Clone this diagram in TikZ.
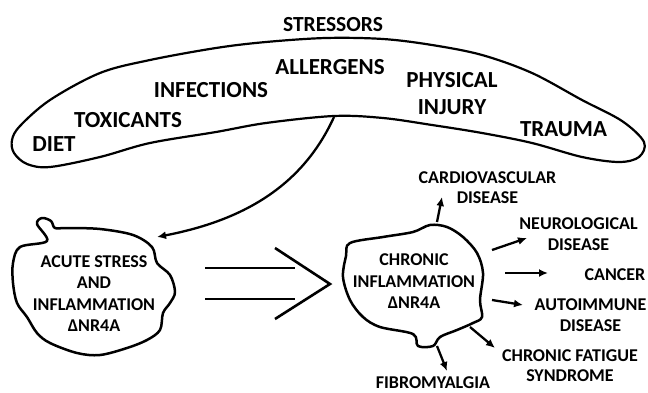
\documentclass[tikz,border=0pt]{standalone}
\usepackage{fontspec}
\setmainfont{Carlito}
\usetikzlibrary{arrows.meta}
\tikzset{
  big/.style={font=\bfseries\fontsize{23}{27.5}\selectfont, inner sep=0pt, align=center},
  small/.style={font=\bfseries\fontsize{18}{21}\selectfont, inner sep=0pt, align=center},
  outline/.style={line width=2.2pt, line join=round},
  blob/.style={line width=2.5pt, line join=round},
  arr/.style={line width=2.3pt, -{Latex[length=9pt,width=8pt]}},
  dbl/.style={line width=2.6pt}
}
\begin{document}
\begin{tikzpicture}[x=1pt,y=-1pt]
\useasboundingbox (0,0) rectangle (648,393);
% boomerang
\draw[outline] plot[smooth cycle, tension=0.55] coordinates {
 (12,140) (20,126) (50,100) (100,73) (150,60) (216,48) (266,42) (326,38)
 (383,39) (432,45) (482,55) (532,73) (582,100) (622,121) (644,142)
 (639,157) (619,162) (582,157) (532,143) (482,133) (432,125) (383,118)
 (334,116) (266,123) (216,132) (150,143) (100,157) (50,167) (27,164) (14,153)};
\coordinate (cusp) at (334,117);
\node[font=\bfseries\fontsize{21.5}{25}\selectfont, inner sep=0pt] (stressors) at (333,24.5) {STRESSORS};
\node[big] (allergens) at (330,67.5) {ALLERGENS};
\node[big] (infections) at (211,90.5) {INFECTIONS};
\node[big] (toxicants) at (128,120.5) {TOXICANTS};
\node[big] (diet) at (54,144.5) {DIET};
\node[big] (physical) at (452,93.75) {PHYSICAL\\INJURY};
\node[big] (trauma) at (563.5,129.5) {TRAUMA};
% acute blob
\draw[blob] plot[smooth cycle, tension=0.55] coordinates {
 (20,247) (47,241) (37,224) (42,218) (51,221) (55,228) (67,228) (100,229)
 (133,235) (152,247) (157,263) (170,275) (175,292) (170,303) (163,313)
 (160,330) (147,340) (127,348) (100,355) (77,353) (50,343) (37,333)
 (27,317) (17,303) (13,283) (13,263)};
\node[small, font=\bfseries\fontsize{18}{21.5}\selectfont] (acute) at (94,293.5) {ACUTE STRESS\\AND\\INFLAMMATION\\ΔNR4A};
\coordinate (acutetip) at (157,237);
\draw[arr] (cusp) .. controls (303,185) and (245,220) .. (acutetip);
% double arrow
\coordinate (l1a) at (205,268); \coordinate (l1b) at (295,268);
\coordinate (l2a) at (205,299); \coordinate (l2b) at (295,299);
\coordinate (cha) at (275,248); \coordinate (chb) at (330,284); \coordinate (chc) at (275,319);
\draw[dbl] (l1a) -- (l1b);
\draw[dbl] (l2a) -- (l2b);
\draw[dbl, line join=miter] (cha) -- (chb) -- (chc);
% chronic blob
\draw[blob] plot[smooth cycle, tension=0.55] coordinates {
 (350,243) (383,237) (413,232) (430,225) (447,227) (463,237) (477,253)
 (483,273) (480,300) (482,317) (473,323) (457,330) (440,337) (433,346)
 (418,346) (413,334) (380,327) (363,317) (350,300) (343,277) (346,256)};
\node[small, font=\bfseries\fontsize{18}{21.5}\selectfont] (chronic) at (414,281.5) {CHRONIC\\INFLAMMATION\\ΔNR4A};
% outcomes
\node[small, font=\bfseries\fontsize{18}{19.5}\selectfont] (cardio) at (487.5,187.5) {CARDIOVASCULAR\\DISEASE};
\node[small] (neuro) at (578.5,234.5) {NEUROLOGICAL\\DISEASE};
\node[small] (cancer) at (615,275) {CANCER};
\node[small] (autoimm) at (590.5,315.5) {AUTOIMMUNE\\DISEASE};
\node[small, font=\bfseries\fontsize{18}{20}\selectfont] (fatigue) at (570,366) {CHRONIC FATIGUE\\SYNDROME};
\node[small] (fibro) at (433,382.5) {FIBROMYALGIA};
\coordinate (s1) at (437,222); \coordinate (e1) at (442,197);
\coordinate (s2) at (492,250); \coordinate (e2) at (527,238);
\coordinate (s3) at (505,273); \coordinate (e3) at (548,273);
\coordinate (s4) at (492,300); \coordinate (e4) at (523,305);
\coordinate (s5) at (470,327); \coordinate (e5) at (495,348);
\coordinate (s6) at (437,346); \coordinate (e6) at (447,371);
\draw[arr] (s1) -- (e1);
\draw[arr] (s2) -- (e2);
\draw[arr] (s3) -- (e3);
\draw[arr] (s4) -- (e4);
\draw[arr] (s5) -- (e5);
\draw[arr] (s6) -- (e6);
\end{tikzpicture}
\end{document}
